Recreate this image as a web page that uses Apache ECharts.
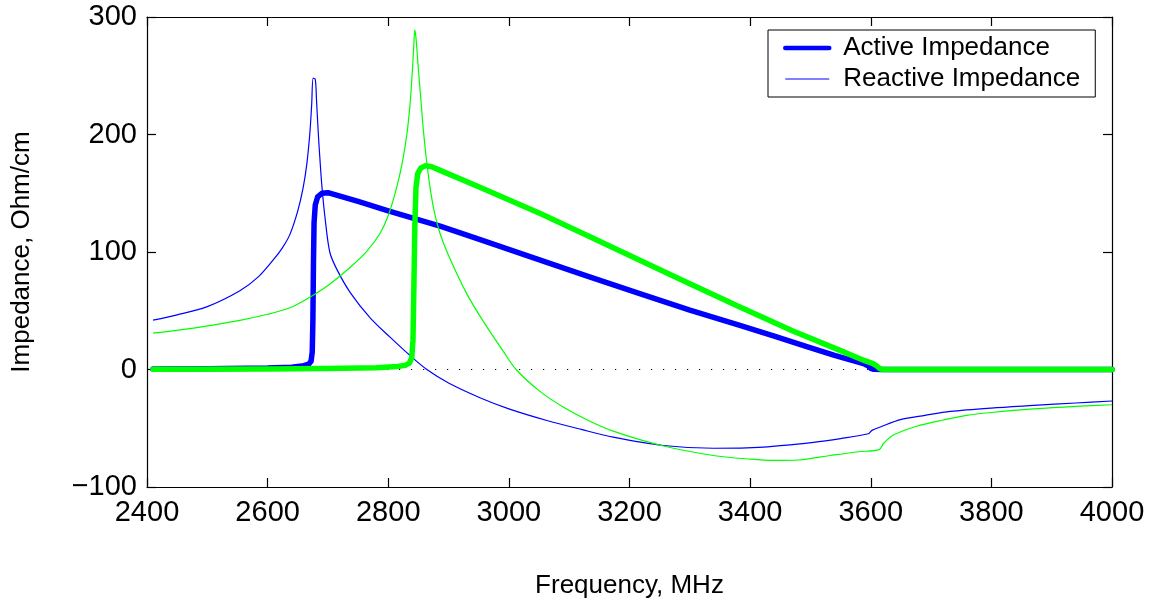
<!DOCTYPE html>
<html>
<head>
<meta charset="utf-8">
<title>Impedance vs Frequency</title>
<script src="https://cdn.jsdelivr.net/npm/echarts@6/dist/echarts.min.js"></script>
<style>
  html, body { margin: 0; padding: 0; background: #fff; }
  #chart { width: 1153px; height: 604px; }
</style>
</head>
<body>
<div id="chart"></div>
<script>
// Frequency axis ticks (MHz) and impedance axis ticks (Ohm/cm)
const xTicks = [2400, 2600, 2800, 3000, 3200, 3400, 3600, 3800, 4000];
const yTicks = [-100, 0, 100, 200, 300];

// Blue set: active impedance
const blueActiveFreq = [2410, 2500, 2600, 2640, 2660, 2668, 2672, 2674, 2675, 2676, 2677, 2679, 2683, 2690, 2700,
  2750, 2800, 2886, 2950, 3052, 3130, 3217, 3300, 3383, 3440, 3494, 3540, 3588, 3596, 3600, 3605, 3620, 4000];
const blueActiveVal = [0.5, 0.7, 1.2, 2, 3.2, 4.5, 7, 15, 40, 90, 125, 140, 147, 150, 150.5,
  143, 135, 122, 111, 93, 79.5, 64.6, 50.5, 37.6, 28.5, 19.5, 12, 5, 3, 1, 0.2, 0, 0];

// Blue set: reactive impedance
const blueReactiveFreq = [2410, 2450, 2500, 2554, 2585, 2609, 2625, 2637, 2650, 2659, 2665, 2670, 2673, 2675.5, 2679,
  2681, 2684, 2687, 2690, 2695, 2703, 2715, 2737, 2770, 2803, 2838, 2864, 2900, 2952, 3000, 3063, 3120, 3173,
  3256, 3339, 3422, 3505, 3550, 3596, 3602, 3616, 3649, 3690, 3732, 3800, 3870, 3940, 4000];
const blueReactiveVal = [42, 46.5, 53.5, 67, 79, 93, 104, 115, 135, 155, 175, 201, 225, 248, 247,
  230, 201, 177, 156, 130, 100, 85, 65.5, 44, 27.5, 11, 0, -11.5, -24, -33.5, -43.4, -51, -57.6,
  -64.7, -67, -66, -62, -58.8, -54.7, -51.8, -48.9, -42.6, -39, -35.7, -32.8, -30.6, -28.5, -26.8];

// Green set: active impedance
const greenActiveFreq = [2410, 2600, 2700, 2780, 2815, 2828, 2835, 2839, 2841, 2842.5, 2844, 2846, 2849, 2854, 2862,
  2872, 2886, 2950, 3052, 3130, 3217, 3300, 3383, 3470, 3549, 3590, 3604, 3610, 3615, 3620, 4000];
const greenActiveVal = [0.3, 0.5, 0.8, 1.5, 2.5, 3.5, 5.5, 10, 25, 70, 120, 155, 167, 171.5, 173.5,
  172.5, 169.5, 155.5, 132.7, 114, 93, 73, 53.2, 33, 16.3, 7.5, 5, 3, 0.8, 0, 0];

// Green set: reactive impedance
const greenReactiveFreq = [2410, 2480, 2554, 2600, 2637, 2665, 2700, 2737, 2765, 2786, 2800, 2814, 2824, 2831, 2836,
  2839, 2842, 2844, 2846, 2849, 2851, 2855, 2858, 2863, 2869, 2876, 2886, 2900, 2930, 2960, 2990, 3012, 3050,
  3090, 3130, 3173, 3253, 3339, 3400, 3439, 3480, 3533, 3580, 3614, 3621, 3637, 3676, 3720, 3759, 3800, 3870,
  3940, 4000];
const greenReactiveVal = [31, 35.5, 41.8, 47, 52.5, 60, 71.5, 87, 101, 115.5, 131, 155, 178, 200.6, 225,
  246, 272, 289, 282, 262, 249, 224, 205, 180, 156, 135, 115.5, 97, 64.6, 39, 16, 0, -18,
  -32, -43, -52.5, -64.7, -73.2, -76.3, -77.4, -77, -73.2, -70, -68.2, -63, -56, -48.3, -43, -39, -36.6, -33.5,
  -31.3, -30];

// Reference zero level
const zeroFreq = [2400, 4000];
const zeroVal = [0, 0];

const legendNames = ['Active Impedance', 'Reactive Impedance'];

const pairs = (xs, ys) => xs.map((x, i) => [x, ys[i]]);

const FONT = '"Liberation Sans", Arial, Helvetica, sans-serif';
const BLUE = '#0000ff';
const GREEN = '#00ff00';

const xMin = xTicks[0], xMax = xTicks[xTicks.length - 1], xStep = xTicks[1] - xTicks[0];
const yMin = yTicks[0], yMax = yTicks[yTicks.length - 1], yStep = yTicks[1] - yTicks[0];

const axisLine = { show: true, onZero: false, lineStyle: { color: '#000', width: 1.2 } };
const axisTick = { show: true, inside: true, length: 9, lineStyle: { color: '#000', width: 1.2 } };
const fmtNum = v => String(v).replace('-', '\u2212');

const chart = echarts.init(document.getElementById('chart'), null, { renderer: 'canvas' });

chart.setOption({
  animation: false,
  backgroundColor: '#fff',
  textStyle: { fontFamily: FONT },
  grid: { left: 147, right: 41, top: 17, bottom: 117, containLabel: false },
  legend: {
    data: [
      { name: legendNames[0], lineStyle: { width: 4.5 } },
      { name: legendNames[1], lineStyle: { width: 1.2 } }
    ],
    orient: 'vertical',
    left: 768,
    top: 30,
    padding: [5, 15, 5, 15],
    itemGap: 5,
    itemWidth: 44,
    itemHeight: 14,
    itemStyle: { opacity: 0 },
    borderColor: '#000',
    borderWidth: 1,
    backgroundColor: '#fff',
    selectedMode: false,
    textStyle: { fontFamily: FONT, fontSize: 26, color: '#000', padding: [0, 0, 0, 9] }
  },
  xAxis: [
    {
      type: 'value', position: 'bottom', min: xMin, max: xMax, interval: xStep,
      axisLine, axisTick, splitLine: { show: false },
      axisLabel: { fontFamily: FONT, fontSize: 29, color: '#000', margin: 11, formatter: fmtNum },
      name: 'Frequency, MHz', nameLocation: 'middle', nameGap: 86,
      nameTextStyle: { fontFamily: FONT, fontSize: 26, color: '#000' }
    },
    {
      type: 'value', position: 'top', min: xMin, max: xMax, interval: xStep,
      axisLine, axisTick, splitLine: { show: false }, axisLabel: { show: false }
    }
  ],
  yAxis: [
    {
      type: 'value', position: 'left', min: yMin, max: yMax, interval: yStep,
      axisLine, axisTick, splitLine: { show: false },
      axisLabel: { fontFamily: FONT, fontSize: 29, color: '#000', margin: 10, formatter: fmtNum },
      name: 'Impedance, Ohm/cm', nameLocation: 'middle', nameGap: 112, nameRotate: 90,
      nameTextStyle: { fontFamily: FONT, fontSize: 26, color: '#000' }
    },
    {
      type: 'value', position: 'right', min: yMin, max: yMax, interval: yStep,
      axisLine, axisTick, splitLine: { show: false }, axisLabel: { show: false }
    }
  ],
  series: [
    {
      name: 'zero', type: 'line', data: pairs(zeroFreq, zeroVal), symbol: 'none', silent: true, z: 1,
      lineStyle: { color: '#000', width: 1.2, type: [1.2, 10.8] }
    },
    {
      name: legendNames[0], type: 'line', data: pairs(blueActiveFreq, blueActiveVal), symbol: 'none', z: 2,
      color: BLUE, lineStyle: { color: BLUE, width: 5.5, cap: 'round', join: 'round' }
    },
    {
      name: legendNames[1], type: 'line', data: pairs(blueReactiveFreq, blueReactiveVal), symbol: 'none', z: 3,
      smooth: 0.3,
      color: BLUE, lineStyle: { color: BLUE, width: 1.2, join: 'round' }
    },
    {
      name: legendNames[0], type: 'line', data: pairs(greenActiveFreq, greenActiveVal), symbol: 'none', z: 4,
      color: GREEN, lineStyle: { color: GREEN, width: 5.5, cap: 'round', join: 'round' }
    },
    {
      name: legendNames[1], type: 'line', data: pairs(greenReactiveFreq, greenReactiveVal), symbol: 'none', z: 5,
      smooth: 0.3,
      color: GREEN, lineStyle: { color: GREEN, width: 1.2, join: 'round' }
    }
  ]
});
</script>
</body>
</html>
